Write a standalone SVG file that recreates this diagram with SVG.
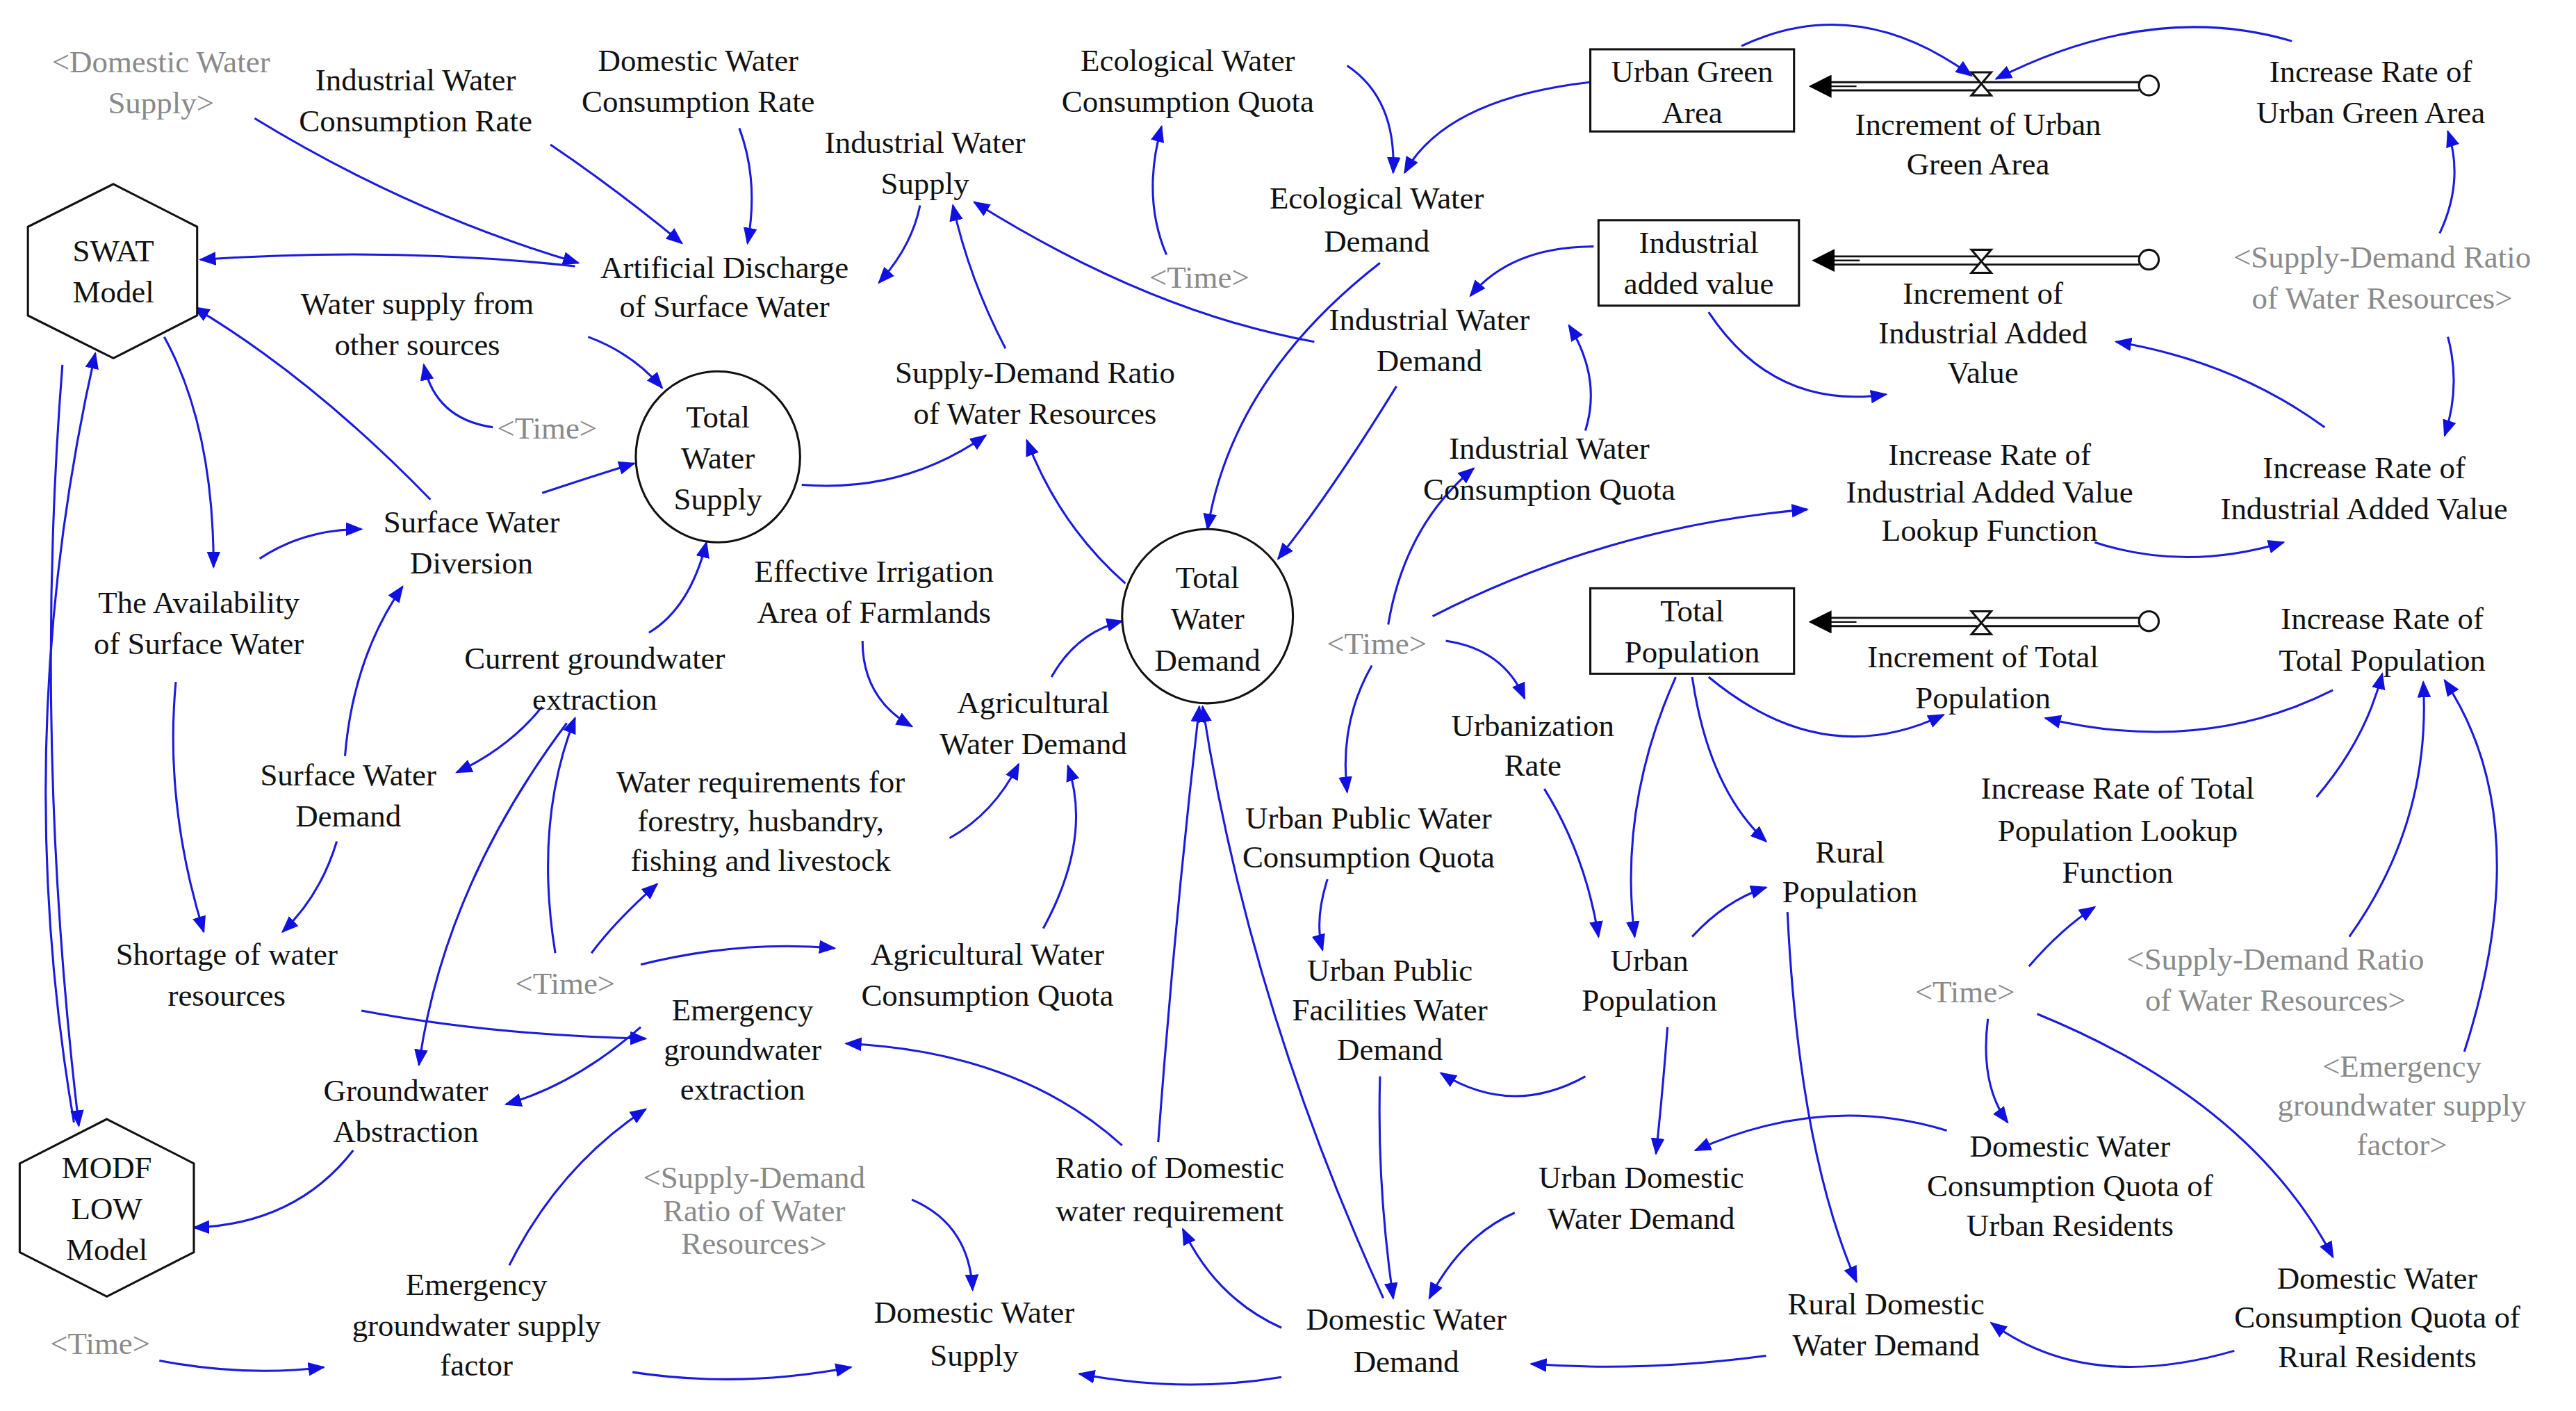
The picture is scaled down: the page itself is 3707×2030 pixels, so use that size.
<svg xmlns="http://www.w3.org/2000/svg" width="3707" height="2030" viewBox="0 0 3707 2030">
<defs>
<marker id="a" viewBox="0 0 10 10" refX="9" refY="5" markerWidth="8" markerHeight="8" orient="auto"><path d="M0,1 L10,5 L0,9 Z" fill="#1010e0"/></marker>
<marker id="b" viewBox="0 0 10 10" refX="2" refY="5" markerWidth="14" markerHeight="14" orient="auto"><path d="M0,0 L10,5 L0,10 Z" fill="#000"/></marker>
</defs>
<style>
text{font-family:"Liberation Serif","Times New Roman",serif;font-size:19px;text-anchor:middle;fill:#111}
.g{fill:#8a8a8a}
.c path{fill:none;stroke:#1a1ae0;stroke-width:1.3;marker-end:url(#a)}
.s{fill:#fff;stroke:#111;stroke-width:1.3}
.p{fill:none;stroke:#111;stroke-width:1.2}
</style>
<rect width="3707" height="2030" fill="#fff"/>
<g transform="scale(2.3642)">
<g class="c" id="connectors">
<path d="M155,72 Q250,130 352,160"/>
<path d="M335,88 Q375,115 415,148"/>
<path d="M450,78 Q462,110 455,148"/>
<path d="M350,162 Q240,150 122,158"/>
<path d="M560,125 Q555,150 535,172"/>
<path d="M612,212 Q590,170 580,125"/>
<path d="M800,208 Q700,190 593,123"/>
<path d="M820,40 Q850,60 848,105"/>
<path d="M968,50 Q880,60 855,105"/>
<path d="M710,155 Q695,120 707,77"/>
<path d="M840,160 Q750,230 735,322"/>
<path d="M970,150 Q920,150 895,180"/>
<path d="M965,262 Q975,230 955,198"/>
<path d="M850,235 Q810,300 778,340"/>
<path d="M685,355 Q645,320 625,268"/>
<path d="M488,295 Q550,300 600,265"/>
<path d="M358,205 Q385,215 403,236"/>
<path d="M300,260 Q265,255 258,222"/>
<path d="M330,300 Q360,290 386,282"/>
<path d="M262,304 Q190,230 118,187"/>
<path d="M100,205 Q130,260 130,345"/>
<path d="M158,340 Q185,322 220,322"/>
<path d="M210,460 Q215,400 245,357"/>
<path d="M107,415 Q100,490 124,567"/>
<path d="M205,512 Q195,545 172,567"/>
<path d="M395,385 Q420,370 430,330"/>
<path d="M330,430 Q310,455 278,470"/>
<path d="M338,580 Q325,500 350,437"/>
<path d="M360,580 Q375,560 400,538"/>
<path d="M345,440 Q270,540 255,648"/>
<path d="M390,625 Q350,660 308,672"/>
<path d="M220,615 Q300,630 393,632"/>
<path d="M310,770 Q340,710 393,675"/>
<path d="M390,587 Q450,572 508,577"/>
<path d="M635,565 Q665,510 650,466"/>
<path d="M578,510 Q605,495 620,465"/>
<path d="M525,390 Q525,425 555,442"/>
<path d="M640,412 Q655,385 683,378"/>
<path d="M683,697 Q620,640 515,635"/>
<path d="M705,695 Q715,560 730,430"/>
<path d="M842,790 Q760,610 732,430"/>
<path d="M780,808 Q740,790 720,748"/>
<path d="M780,838 Q720,848 657,836"/>
<path d="M555,730 Q590,745 592,785"/>
<path d="M385,835 Q450,845 518,832"/>
<path d="M97,828 Q150,838 197,832"/>
<path d="M215,700 Q180,745 118,747"/>
<path d="M45,683 Q5,450 58,215"/>
<path d="M38,222 Q20,450 48,685"/>
<path d="M840,655 Q838,720 848,790"/>
<path d="M922,738 Q890,752 870,790"/>
<path d="M1075,825 Q1000,835 932,830"/>
<path d="M965,655 Q920,680 877,653"/>
<path d="M1015,625 Q1012,665 1008,702"/>
<path d="M1185,688 Q1110,665 1032,700"/>
<path d="M1210,620 Q1205,660 1222,683"/>
<path d="M1240,617 Q1370,670 1420,765"/>
<path d="M1088,555 Q1095,700 1130,780"/>
<path d="M1360,822 Q1270,848 1212,805"/>
<path d="M1030,570 Q1050,548 1075,540"/>
<path d="M1020,412 Q985,490 995,570"/>
<path d="M1030,412 Q1040,480 1075,512"/>
<path d="M940,480 Q965,520 973,570"/>
<path d="M880,390 Q915,395 928,425"/>
<path d="M835,405 Q815,440 820,482"/>
<path d="M808,535 Q800,560 805,578"/>
<path d="M845,380 Q855,320 897,285"/>
<path d="M872,375 Q980,320 1100,310"/>
<path d="M1040,190 Q1080,250 1148,240"/>
<path d="M1415,260 Q1360,220 1288,208"/>
<path d="M1275,330 Q1330,348 1390,330"/>
<path d="M1490,205 Q1498,235 1488,265"/>
<path d="M1485,142 Q1500,110 1490,80"/>
<path d="M1395,25 Q1310,0 1215,48"/>
<path d="M1060,28 Q1130,-5 1200,46"/>
<path d="M1040,412 Q1110,470 1183,435"/>
<path d="M1420,420 Q1340,460 1245,437"/>
<path d="M1235,588 Q1255,565 1275,552"/>
<path d="M1410,485 Q1440,450 1450,410"/>
<path d="M1430,570 Q1480,500 1475,415"/>
<path d="M1500,640 Q1545,500 1488,414"/>
</g>
<g id="flows">
<path class="p" d="M1110,50 H1302 M1110,55 H1302"/><path d="M1130,52.5 H1112" stroke="#111" stroke-width="1" marker-end="url(#b)"/>
<path d="M1200,44 L1212,44 L1200,58 L1212,58 Z" class="s"/><circle cx="1308" cy="52" r="6" class="s"/>
<path class="p" d="M1112,156 H1302 M1112,161 H1302"/><path d="M1132,158.5 H1114" stroke="#111" stroke-width="1" marker-end="url(#b)"/>
<path d="M1200,152 L1212,152 L1200,166 L1212,166 Z" class="s"/><circle cx="1308" cy="158" r="6" class="s"/>
<path class="p" d="M1110,376 H1302 M1110,381 H1302"/><path d="M1130,378.5 H1112" stroke="#111" stroke-width="1" marker-end="url(#b)"/>
<path d="M1200,372 L1212,372 L1200,386 L1212,386 Z" class="s"/><circle cx="1308" cy="378" r="6" class="s"/>
</g>
<g id="swat"><path class="s" d="M69,112 L120,138 L120,192 L69,218 L17,192 L17,138 Z"/><text x="69" y="159">SWAT</text><text x="69" y="184">Model</text></g>
<g id="modflow"><path class="s" d="M65,681 L118,708 L118,762 L65,789 L12,762 L12,708 Z"/><text x="65" y="717">MODF</text><text x="65" y="742">LOW</text><text x="65" y="767">Model</text></g>
<g id="ugarea"><rect class="s" x="968" y="30" width="124" height="50"/><text x="1030" y="50">Urban Green</text><text x="1030" y="75">Area</text></g>
<g id="indvalue"><rect class="s" x="973" y="134" width="122" height="52"/><text x="1034" y="154">Industrial</text><text x="1034" y="179">added value</text></g>
<g id="totpop"><rect class="s" x="968" y="358" width="124" height="52"/><text x="1030" y="378">Total</text><text x="1030" y="403">Population</text></g>
<g id="tws"><ellipse class="s" cx="437" cy="278" rx="50" ry="52"/><text x="437" y="260">Total</text><text x="437" y="285">Water</text><text x="437" y="310">Supply</text></g>
<g id="twd"><ellipse class="s" cx="735" cy="375" rx="52" ry="53"/><text x="735" y="358">Total</text><text x="735" y="383">Water</text><text x="735" y="408">Demand</text></g>
<g id="v1"><text class="g" x="98" y="44">&lt;Domestic Water</text><text class="g" x="98" y="69">Supply&gt;</text></g>
<g id="v2"><text x="253" y="55">Industrial Water</text><text x="253" y="80">Consumption Rate</text></g>
<g id="v3"><text x="425" y="43">Domestic Water</text><text x="425" y="68">Consumption Rate</text></g>
<g id="v4"><text x="563" y="93">Industrial Water</text><text x="563" y="118">Supply</text></g>
<g id="v5"><text x="723" y="43">Ecological Water</text><text x="723" y="68">Consumption Quota</text></g>
<g id="v6"><text x="1204" y="82">Increment of Urban</text><text x="1204" y="106">Green Area</text></g>
<g id="v7"><text x="1443" y="50">Increase Rate of</text><text x="1443" y="75">Urban Green Area</text></g>
<g id="v8"><text x="441" y="169">Artificial Discharge</text><text x="441" y="193">of Surface Water</text></g>
<g id="v9"><text x="838" y="127">Ecological Water</text><text x="838" y="153">Demand</text></g>
<g id="v10"><text class="g" x="730" y="175">&lt;Time&gt;</text></g>
<g id="v11"><text x="1207" y="185">Increment of</text><text x="1207" y="209">Industrial Added</text><text x="1207" y="233">Value</text></g>
<g id="v12"><text class="g" x="1450" y="163">&lt;Supply-Demand Ratio</text><text class="g" x="1450" y="188">of Water Resources&gt;</text></g>
<g id="v13"><text x="254" y="191">Water supply from</text><text x="254" y="216">other sources</text></g>
<g id="v14"><text x="870" y="201">Industrial Water</text><text x="870" y="226">Demand</text></g>
<g id="v15"><text x="630" y="233">Supply-Demand Ratio</text><text x="630" y="258">of Water Resources</text></g>
<g id="v16"><text class="g" x="333" y="267">&lt;Time&gt;</text></g>
<g id="v17"><text x="943" y="279">Industrial Water</text><text x="943" y="304">Consumption Quota</text></g>
<g id="v18"><text x="1211" y="283">Increase Rate of</text><text x="1211" y="306">Industrial Added Value</text><text x="1211" y="329">Lookup Function</text></g>
<g id="v19"><text x="1439" y="291">Increase Rate of</text><text x="1439" y="316">Industrial Added Value</text></g>
<g id="v20"><text x="287" y="324">Surface Water</text><text x="287" y="349">Diversion</text></g>
<g id="v21"><text x="532" y="354">Effective Irrigation</text><text x="532" y="379">Area of Farmlands</text></g>
<g id="v22"><text x="121" y="373">The Availability</text><text x="121" y="398">of Surface Water</text></g>
<g id="v23"><text class="g" x="838" y="398">&lt;Time&gt;</text></g>
<g id="v24"><text x="1207" y="406">Increment of Total</text><text x="1207" y="431">Population</text></g>
<g id="v25"><text x="1450" y="383">Increase Rate of</text><text x="1450" y="408">Total Population</text></g>
<g id="v26"><text x="362" y="407">Current groundwater</text><text x="362" y="432">extraction</text></g>
<g id="v27"><text x="629" y="434">Agricultural</text><text x="629" y="459">Water Demand</text></g>
<g id="v28"><text x="933" y="448">Urbanization</text><text x="933" y="472">Rate</text></g>
<g id="v29"><text x="212" y="478">Surface Water</text><text x="212" y="503">Demand</text></g>
<g id="v30"><text x="463" y="482">Water requirements for</text><text x="463" y="506">forestry, husbandry,</text><text x="463" y="530">fishing and livestock</text></g>
<g id="v31"><text x="1289" y="486">Increase Rate of Total</text><text x="1289" y="512">Population Lookup</text><text x="1289" y="537">Function</text></g>
<g id="v32"><text x="833" y="504">Urban Public Water</text><text x="833" y="528">Consumption Quota</text></g>
<g id="v33"><text x="1126" y="525">Rural</text><text x="1126" y="549">Population</text></g>
<g id="v34"><text x="138" y="587">Shortage of water</text><text x="138" y="612">resources</text></g>
<g id="v35"><text x="601" y="587">Agricultural Water</text><text x="601" y="612">Consumption Quota</text></g>
<g id="v36"><text class="g" x="344" y="605">&lt;Time&gt;</text></g>
<g id="v37"><text x="846" y="597">Urban Public</text><text x="846" y="621">Facilities Water</text><text x="846" y="645">Demand</text></g>
<g id="v38"><text x="1004" y="591">Urban</text><text x="1004" y="615">Population</text></g>
<g id="v39"><text class="g" x="1385" y="590">&lt;Supply-Demand Ratio</text><text class="g" x="1385" y="615">of Water Resources&gt;</text></g>
<g id="v40"><text class="g" x="1196" y="610">&lt;Time&gt;</text></g>
<g id="v41"><text x="452" y="621">Emergency</text><text x="452" y="645">groundwater</text><text x="452" y="669">extraction</text></g>
<g id="v42"><text x="247" y="670">Groundwater</text><text x="247" y="695">Abstraction</text></g>
<g id="v43"><text class="g" x="1462" y="655">&lt;Emergency</text><text class="g" x="1462" y="679">groundwater supply</text><text class="g" x="1462" y="703">factor&gt;</text></g>
<g id="v44"><text x="712" y="717">Ratio of Domestic</text><text x="712" y="743">water requirement</text></g>
<g id="v45"><text class="g" x="459" y="723">&lt;Supply-Demand</text><text class="g" x="459" y="743">Ratio of Water</text><text class="g" x="459" y="763">Resources&gt;</text></g>
<g id="v46"><text x="999" y="723">Urban Domestic</text><text x="999" y="748">Water Demand</text></g>
<g id="v47"><text x="1260" y="704">Domestic Water</text><text x="1260" y="728">Consumption Quota of</text><text x="1260" y="752">Urban Residents</text></g>
<g id="v48"><text x="290" y="788">Emergency</text><text x="290" y="813">groundwater supply</text><text x="290" y="837">factor</text></g>
<g id="v49"><text x="1148" y="800">Rural Domestic</text><text x="1148" y="825">Water Demand</text></g>
<g id="v50"><text x="1447" y="784">Domestic Water</text><text x="1447" y="808">Consumption Quota of</text><text x="1447" y="832">Rural Residents</text></g>
<g id="v51"><text class="g" x="61" y="824">&lt;Time&gt;</text></g>
<g id="v52"><text x="593" y="805">Domestic Water</text><text x="593" y="831">Supply</text></g>
<g id="v53"><text x="856" y="809">Domestic Water</text><text x="856" y="835">Demand</text></g>
</g>
</svg>
